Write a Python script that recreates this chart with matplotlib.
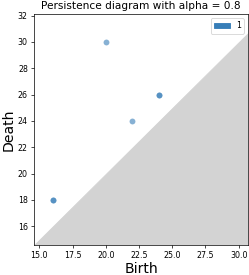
import numpy as np
import matplotlib
matplotlib.use("Agg")
import matplotlib.pyplot as plt
import matplotlib.patches as mpatches
from matplotlib.ticker import MultipleLocator

# persistence pairs of dimension 1 (two pairs sit on top of each other)
births = [16, 16, 20, 22, 24, 24]
deaths = [18, 18, 30, 24, 26, 26]
dim_label = "1"
title = "Persistence diagram with alpha = 0.8"

color = plt.cm.Set1.colors[1]

min_birth = min(births)
max_death = max(deaths)
delta = (max_death - min_birth) * 0.1
axis_start = min_birth - delta
axis_end = max_death + delta / 2
top = max_death + delta + delta / 2

dpi = 63
fig = plt.figure(figsize=(249 / dpi, 275 / dpi), dpi=dpi)
ax = fig.add_axes([34 / 249, 30.3 / 275, 214 / 249, 230.4 / 275])

ax.add_patch(mpatches.Polygon([[axis_start, axis_start], [axis_end, axis_start],
                               [axis_end, axis_end]], fill=True, color="lightgrey"))
ax.scatter(births, deaths, s=45, alpha=0.6, color=color, linewidths=0)

ax.axis([axis_start, axis_end, axis_start, top])
ax.xaxis.set_major_locator(MultipleLocator(2.5))
ax.yaxis.set_major_locator(MultipleLocator(2))
ax.tick_params(labelsize=9)
ax.set_xlabel("Birth", fontsize=16, labelpad=2)
ax.set_ylabel("Death", fontsize=16, labelpad=3)
ax.set_title(title, fontsize=12)
ax.legend(handles=[mpatches.Patch(color=color, label=dim_label)], loc="upper right",
          fontsize=9)

fig.savefig("out.png", dpi=dpi)
